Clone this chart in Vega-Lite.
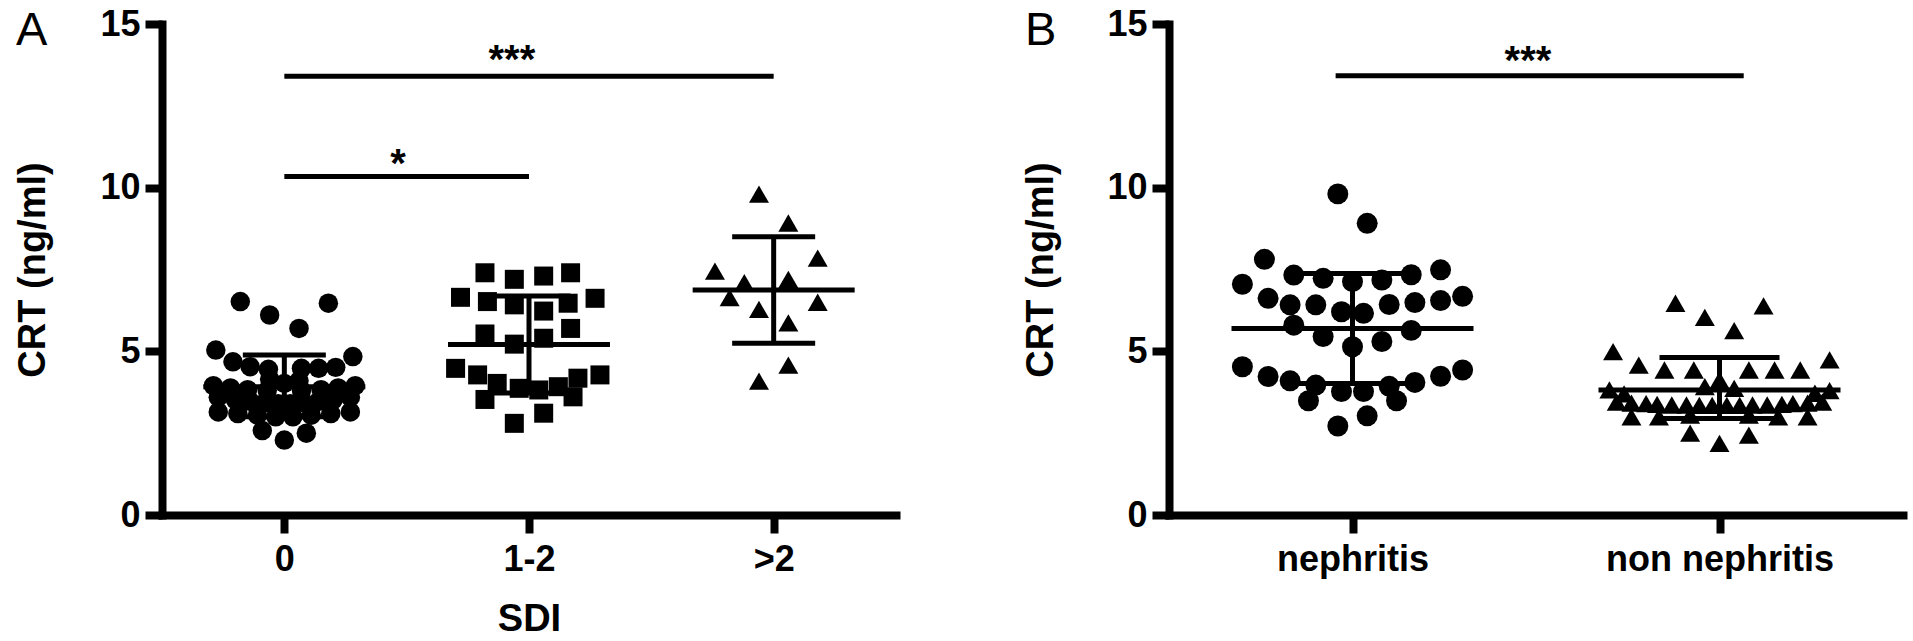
{
  "$schema": "https://vega.github.io/schema/vega-lite/v6.json",
  "background": "white",
  "padding": {"left": 14, "top": 6, "right": 5, "bottom": 0},
  "spacing": 273,
  "bounds": "flush",
  "datasets": {
    "a0": [
      {"x": -0.18, "crt": 6.52}, {"x": -0.06, "crt": 6.11}, {"x": 0.18, "crt": 6.47}, {"x": 0.06, "crt": 5.70},
      {"x": -0.28, "crt": 5.04}, {"x": 0.28, "crt": 4.84}, {"x": -0.21, "crt": 4.68}, {"x": -0.14, "crt": 4.53},
      {"x": -0.065, "crt": 4.45}, {"x": 0.07, "crt": 4.48}, {"x": 0.14, "crt": 4.48}, {"x": 0.21, "crt": 4.51},
      {"x": -0.06, "crt": 4.15}, {"x": 0.0, "crt": 4.02}, {"x": 0.06, "crt": 4.10},
      {"x": -0.29, "crt": 3.95}, {"x": -0.22, "crt": 3.88}, {"x": -0.15, "crt": 3.83}, {"x": -0.07, "crt": 3.80},
      {"x": 0.07, "crt": 3.80}, {"x": 0.15, "crt": 3.83}, {"x": 0.22, "crt": 3.88}, {"x": 0.29, "crt": 3.95},
      {"x": -0.27, "crt": 3.60}, {"x": -0.20, "crt": 3.52}, {"x": -0.14, "crt": 3.47}, {"x": -0.08, "crt": 3.43},
      {"x": -0.025, "crt": 3.40}, {"x": 0.025, "crt": 3.40}, {"x": 0.08, "crt": 3.43}, {"x": 0.14, "crt": 3.47},
      {"x": 0.20, "crt": 3.52}, {"x": 0.27, "crt": 3.60},
      {"x": -0.27, "crt": 3.15}, {"x": -0.19, "crt": 3.10}, {"x": -0.11, "crt": 3.05}, {"x": -0.035, "crt": 3.00},
      {"x": 0.035, "crt": 3.00}, {"x": 0.11, "crt": 3.05}, {"x": 0.19, "crt": 3.10}, {"x": 0.27, "crt": 3.15},
      {"x": -0.09, "crt": 2.58}, {"x": 0.0, "crt": 2.29}, {"x": 0.09, "crt": 2.50}
    ],
    "a12": [
      {"x": 0.82, "crt": 7.40}, {"x": 0.94, "crt": 7.20}, {"x": 1.06, "crt": 7.30}, {"x": 1.17, "crt": 7.40},
      {"x": 0.72, "crt": 6.65}, {"x": 0.83, "crt": 6.52}, {"x": 0.94, "crt": 6.42}, {"x": 1.06, "crt": 6.23},
      {"x": 1.16, "crt": 6.47}, {"x": 1.27, "crt": 6.62},
      {"x": 0.82, "crt": 5.53}, {"x": 1.17, "crt": 5.70}, {"x": 0.94, "crt": 5.22}, {"x": 1.06, "crt": 5.40},
      {"x": 0.70, "crt": 4.48}, {"x": 0.79, "crt": 4.28}, {"x": 0.87, "crt": 4.02}, {"x": 0.96, "crt": 3.87},
      {"x": 1.04, "crt": 3.82}, {"x": 1.12, "crt": 3.92}, {"x": 1.20, "crt": 4.18}, {"x": 1.29, "crt": 4.28},
      {"x": 0.82, "crt": 3.53}, {"x": 1.18, "crt": 3.61}, {"x": 0.94, "crt": 2.80}, {"x": 1.06, "crt": 3.11}
    ],
    "a2": [
      {"x": 1.94, "crt": 9.80}, {"x": 2.06, "crt": 8.92}, {"x": 1.76, "crt": 7.45}, {"x": 2.18, "crt": 7.85},
      {"x": 1.88, "crt": 7.10}, {"x": 2.06, "crt": 7.20}, {"x": 1.82, "crt": 6.64}, {"x": 2.18, "crt": 6.50},
      {"x": 1.94, "crt": 6.28}, {"x": 2.06, "crt": 5.87}, {"x": 2.06, "crt": 4.58}, {"x": 1.94, "crt": 4.09}
    ],
    "bn": [
      {"x": -0.04, "crt": 9.81}, {"x": 0.04, "crt": 8.91}, {"x": -0.24, "crt": 7.81}, {"x": -0.30, "crt": 7.05},
      {"x": -0.16, "crt": 7.33}, {"x": -0.08, "crt": 7.23}, {"x": 0.0, "crt": 7.13}, {"x": -0.23, "crt": 6.62},
      {"x": -0.17, "crt": 6.42}, {"x": -0.10, "crt": 6.42}, {"x": -0.03, "crt": 6.21}, {"x": 0.03, "crt": 6.16},
      {"x": -0.16, "crt": 5.80}, {"x": -0.08, "crt": 5.45}, {"x": 0.0, "crt": 5.14}, {"x": -0.30, "crt": 4.53},
      {"x": -0.23, "crt": 4.23}, {"x": -0.17, "crt": 4.10}, {"x": -0.10, "crt": 3.97}, {"x": -0.03, "crt": 3.77},
      {"x": 0.03, "crt": 3.77}, {"x": -0.12, "crt": 3.49}, {"x": -0.04, "crt": 2.72}, {"x": 0.04, "crt": 3.03},
      {"x": 0.08, "crt": 7.18}, {"x": 0.16, "crt": 7.34}, {"x": 0.24, "crt": 7.49}, {"x": 0.10, "crt": 6.43},
      {"x": 0.17, "crt": 6.49}, {"x": 0.24, "crt": 6.55}, {"x": 0.30, "crt": 6.68}, {"x": 0.08, "crt": 5.30},
      {"x": 0.16, "crt": 5.64}, {"x": 0.10, "crt": 3.93}, {"x": 0.17, "crt": 4.05}, {"x": 0.24, "crt": 4.24},
      {"x": 0.30, "crt": 4.43}, {"x": 0.12, "crt": 3.49}
    ],
    "bnn": [
      {"x": 0.88, "crt": 6.47}, {"x": 0.96, "crt": 6.04}, {"x": 1.12, "crt": 6.39}, {"x": 1.04, "crt": 5.63},
      {"x": 0.71, "crt": 4.99}, {"x": 1.30, "crt": 4.74}, {"x": 0.78, "crt": 4.58}, {"x": 0.85, "crt": 4.43},
      {"x": 0.93, "crt": 4.43}, {"x": 1.08, "crt": 4.43}, {"x": 1.15, "crt": 4.43}, {"x": 1.22, "crt": 4.43},
      {"x": 1.0, "crt": 4.12}, {"x": 0.96, "crt": 3.92}, {"x": 1.04, "crt": 3.87},
      {"x": 0.70, "crt": 3.82}, {"x": 0.74, "crt": 3.70}, {"x": 1.26, "crt": 3.72}, {"x": 1.30, "crt": 3.80},
      {"x": 0.72, "crt": 3.45}, {"x": 0.76, "crt": 3.42}, {"x": 0.80, "crt": 3.40}, {"x": 0.83, "crt": 3.38},
      {"x": 0.87, "crt": 3.36}, {"x": 0.91, "crt": 3.36}, {"x": 0.945, "crt": 3.35}, {"x": 0.98, "crt": 3.35},
      {"x": 1.02, "crt": 3.35}, {"x": 1.055, "crt": 3.35}, {"x": 1.09, "crt": 3.36}, {"x": 1.13, "crt": 3.36},
      {"x": 1.17, "crt": 3.38}, {"x": 1.20, "crt": 3.40}, {"x": 1.24, "crt": 3.42}, {"x": 1.28, "crt": 3.45},
      {"x": 0.76, "crt": 3.00}, {"x": 0.835, "crt": 3.00}, {"x": 0.92, "crt": 3.05}, {"x": 1.08, "crt": 3.05},
      {"x": 1.16, "crt": 3.00}, {"x": 1.24, "crt": 3.00},
      {"x": 0.92, "crt": 2.50}, {"x": 1.0, "crt": 2.19}, {"x": 1.08, "crt": 2.44}
    ],
    "sa": [
      {"g": 0, "mean": 3.92, "lo": 3.00, "hi": 4.89},
      {"g": 1, "mean": 5.21, "lo": 3.73, "hi": 6.69},
      {"g": 2, "mean": 6.87, "lo": 5.25, "hi": 8.50}
    ],
    "sb": [
      {"g": 0, "mean": 5.70, "lo": 4.02, "hi": 7.38},
      {"g": 1, "mean": 3.82, "lo": 2.95, "hi": 4.81}
    ],
    "siga": [
      {"x1": 0, "x2": 2, "y": 13.4, "tx": 0.93, "ty": 13.5, "label": "***"},
      {"x1": 0, "x2": 1, "y": 10.34, "tx": 0.465, "ty": 10.33, "label": "*"}
    ],
    "sigb": [
      {"x1": -0.046, "x2": 1.066, "y": 13.42, "tx": 0.478, "ty": 13.47, "label": "***"}
    ]
  },
  "hconcat": [
    {
      "width": 734,
      "height": 491,
      "title": {"text": "A", "anchor": "start", "frame": "group", "orient": "top", "offset": 0, "dx": -146, "dy": 86, "fontSize": 47, "fontWeight": "normal", "font": "Liberation Sans", "color": "black", "baseline": "alphabetic"},
      "layer": [
        {
          "data": {"name": "a0"},
          "mark": {"type": "point", "shape": "circle", "filled": true, "color": "black", "opacity": 1, "size": 380},
          "encoding": {
            "x": {"field": "x", "type": "quantitative", "title": "SDI",
              "scale": {"domain": [-0.5, 2.5], "nice": false, "zero": false},
              "axis": {"values": [0, 1, 2], "labelExpr": "datum.value == 0 ? '0' : datum.value == 1 ? '1-2' : '>2'", "tickSize": 18, "labelPadding": 9, "labelFlush": false, "labelOverlap": false, "labelLimit": 0, "titleX": 367, "titleY": 115, "titleBaseline": "alphabetic", "titleAlign": "center"}},
            "y": {"field": "crt", "type": "quantitative", "title": "CRT (ng/ml)",
              "scale": {"domain": [0, 15], "nice": false},
              "axis": {"values": [0, 5, 10, 15], "tickSize": 17, "labelPadding": 5, "titleX": -118, "titleY": 245.5, "titleAngle": 270, "titleBaseline": "alphabetic", "titleAlign": "center"}}
          }
        },
        {
          "data": {"name": "a12"},
          "mark": {"type": "point", "shape": "square", "filled": true, "color": "black", "opacity": 1, "size": 361},
          "encoding": {
            "x": {"field": "x", "type": "quantitative", "title": "SDI"},
            "y": {"field": "crt", "type": "quantitative", "title": "CRT (ng/ml)"}
          }
        },
        {
          "data": {"name": "a2"},
          "mark": {"type": "point", "shape": "triangle-up", "filled": true, "color": "black", "opacity": 1, "size": 400},
          "encoding": {
            "x": {"field": "x", "type": "quantitative", "title": "SDI"},
            "y": {"field": "crt", "type": "quantitative", "title": "CRT (ng/ml)"}
          }
        },
        {
          "data": {"name": "sa"},
          "mark": {"type": "rule", "strokeWidth": 5, "color": "black"},
          "encoding": {
            "x": {"field": "g", "type": "quantitative", "title": "SDI"},
            "y": {"field": "lo", "type": "quantitative", "title": "CRT (ng/ml)"},
            "y2": {"field": "hi"}
          }
        },
        {
          "data": {"name": "sa"},
          "mark": {"type": "tick", "orient": "horizontal", "size": 162, "thickness": 5, "color": "black", "opacity": 1},
          "encoding": {
            "x": {"field": "g", "type": "quantitative", "title": "SDI"},
            "y": {"field": "mean", "type": "quantitative", "title": "CRT (ng/ml)"}
          }
        },
        {
          "data": {"name": "sa"},
          "mark": {"type": "tick", "orient": "horizontal", "size": 83, "thickness": 5, "color": "black", "opacity": 1},
          "encoding": {
            "x": {"field": "g", "type": "quantitative", "title": "SDI"},
            "y": {"field": "lo", "type": "quantitative", "title": "CRT (ng/ml)"}
          }
        },
        {
          "data": {"name": "sa"},
          "mark": {"type": "tick", "orient": "horizontal", "size": 83, "thickness": 5, "color": "black", "opacity": 1},
          "encoding": {
            "x": {"field": "g", "type": "quantitative", "title": "SDI"},
            "y": {"field": "hi", "type": "quantitative", "title": "CRT (ng/ml)"}
          }
        },
        {
          "data": {"name": "siga"},
          "mark": {"type": "rule", "strokeWidth": 5, "color": "black"},
          "encoding": {
            "x": {"field": "x1", "type": "quantitative", "title": "SDI"},
            "x2": {"field": "x2"},
            "y": {"field": "y", "type": "quantitative", "title": "CRT (ng/ml)"}
          }
        },
        {
          "data": {"name": "siga"},
          "mark": {"type": "text", "font": "Liberation Sans", "fontSize": 40, "fontWeight": "bold", "color": "black", "align": "center", "baseline": "alphabetic"},
          "encoding": {
            "x": {"field": "tx", "type": "quantitative", "title": "SDI"},
            "y": {"field": "ty", "type": "quantitative", "title": "CRT (ng/ml)"},
            "text": {"field": "label"}
          }
        }
      ]
    },
    {
      "width": 734,
      "height": 491,
      "title": {"text": "B", "anchor": "start", "frame": "group", "orient": "top", "offset": 0, "dx": -144, "dy": 86, "fontSize": 47, "fontWeight": "normal", "font": "Liberation Sans", "color": "black", "baseline": "alphabetic"},
      "layer": [
        {
          "data": {"name": "bn"},
          "mark": {"type": "point", "shape": "circle", "filled": true, "color": "black", "opacity": 1, "size": 440},
          "encoding": {
            "x": {"field": "x", "type": "quantitative", "title": null,
              "scale": {"domain": [-0.5, 1.5], "nice": false, "zero": false},
              "axis": {"values": [0, 1], "labelExpr": "datum.value == 0 ? 'nephritis' : 'non nephritis'", "tickSize": 18, "labelPadding": 9, "labelFlush": false, "labelOverlap": false, "labelLimit": 0}},
            "y": {"field": "crt", "type": "quantitative", "title": "CRT (ng/ml)",
              "scale": {"domain": [0, 15], "nice": false},
              "axis": {"values": [0, 5, 10, 15], "tickSize": 17, "labelPadding": 5, "titleX": -117, "titleY": 245.5, "titleAngle": 270, "titleBaseline": "alphabetic", "titleAlign": "center"}}
          }
        },
        {
          "data": {"name": "bnn"},
          "mark": {"type": "point", "shape": "triangle-up", "filled": true, "color": "black", "opacity": 1, "size": 400},
          "encoding": {
            "x": {"field": "x", "type": "quantitative", "title": null},
            "y": {"field": "crt", "type": "quantitative", "title": "CRT (ng/ml)"}
          }
        },
        {
          "data": {"name": "sb"},
          "mark": {"type": "rule", "strokeWidth": 5, "color": "black"},
          "encoding": {
            "x": {"field": "g", "type": "quantitative", "title": null},
            "y": {"field": "lo", "type": "quantitative", "title": "CRT (ng/ml)"},
            "y2": {"field": "hi"}
          }
        },
        {
          "data": {"name": "sb"},
          "mark": {"type": "tick", "orient": "horizontal", "size": 242, "thickness": 5, "color": "black", "opacity": 1},
          "encoding": {
            "x": {"field": "g", "type": "quantitative", "title": null},
            "y": {"field": "mean", "type": "quantitative", "title": "CRT (ng/ml)"}
          }
        },
        {
          "data": {"name": "sb"},
          "mark": {"type": "tick", "orient": "horizontal", "size": 120, "thickness": 5, "color": "black", "opacity": 1},
          "encoding": {
            "x": {"field": "g", "type": "quantitative", "title": null},
            "y": {"field": "lo", "type": "quantitative", "title": "CRT (ng/ml)"}
          }
        },
        {
          "data": {"name": "sb"},
          "mark": {"type": "tick", "orient": "horizontal", "size": 120, "thickness": 5, "color": "black", "opacity": 1},
          "encoding": {
            "x": {"field": "g", "type": "quantitative", "title": null},
            "y": {"field": "hi", "type": "quantitative", "title": "CRT (ng/ml)"}
          }
        },
        {
          "data": {"name": "sigb"},
          "mark": {"type": "rule", "strokeWidth": 5, "color": "black"},
          "encoding": {
            "x": {"field": "x1", "type": "quantitative", "title": null},
            "x2": {"field": "x2"},
            "y": {"field": "y", "type": "quantitative", "title": "CRT (ng/ml)"}
          }
        },
        {
          "data": {"name": "sigb"},
          "mark": {"type": "text", "font": "Liberation Sans", "fontSize": 40, "fontWeight": "bold", "color": "black", "align": "center", "baseline": "alphabetic"},
          "encoding": {
            "x": {"field": "tx", "type": "quantitative", "title": null},
            "y": {"field": "ty", "type": "quantitative", "title": "CRT (ng/ml)"},
            "text": {"field": "label"}
          }
        }
      ]
    }
  ],
  "config": {
    "view": {"stroke": null},
    "font": "Liberation Sans",
    "axis": {
      "grid": false,
      "domainColor": "black", "domainWidth": 8, "domainCap": "square",
      "tickColor": "black", "tickWidth": 8,
      "labelFont": "Liberation Sans", "labelFontSize": 36, "labelFontWeight": "bold", "labelColor": "black",
      "titleFont": "Liberation Sans", "titleFontSize": 38, "titleFontWeight": "bold", "titleColor": "black"
    }
  }
}
